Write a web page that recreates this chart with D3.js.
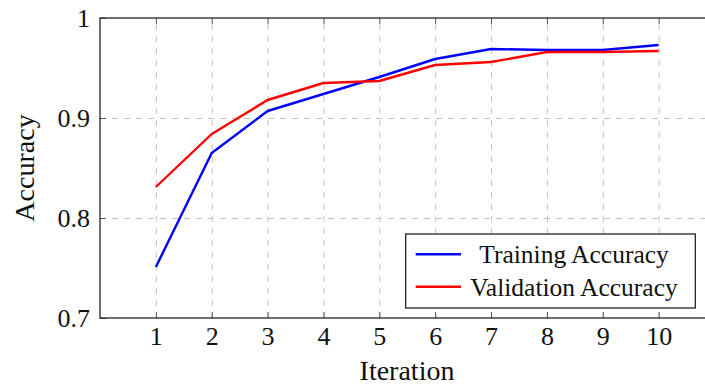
<!DOCTYPE html>
<html>
<head>
<meta charset="utf-8">
<script src="https://cdn.jsdelivr.net/npm/d3@7"></script>
<style>
  body { margin: 0; background: #fff; }
  svg { display: block; font-family: "Liberation Serif", "DejaVu Serif", serif; }
</style>
</head>
<body>
<script>
//chart data
var iterations = [1, 2, 3, 4, 5, 6, 7, 8, 9, 10];
var trainAcc = [0.751, 0.865, 0.907, 0.924, 0.941, 0.959, 0.969, 0.968, 0.968, 0.973];
var valAcc = [0.831, 0.884, 0.918, 0.935, 0.937, 0.953, 0.956, 0.966, 0.966, 0.967];
var yTicks = [0.7, 0.8, 0.9, 1];
var yTickLabels = ["0.7", "0.8", "0.9", "1"];
var seriesNames = ["Training Accuracy", "Validation Accuracy"];
var seriesColors = ["blue", "red"];

var w = 705, h = 390;
var plotLeft = 100, plotTop = 18, plotH = 300;
var plotRight = 714.5; //frame runs off the right edge like the original

var svg = d3.select("body").append("svg")
  .attr("width", w)
  .attr("height", h);

var x = d3.scaleLinear().domain([0, 11]).range([plotLeft, plotRight]);
var y = d3.scaleLinear().domain([0.7, 1]).range([plotTop + plotH, plotTop]);

//dashed grid
var gridX = svg.append("g")
  .attr("transform", "translate(0," + (plotTop + plotH) + ")")
  .call(d3.axisBottom(x).tickValues(iterations).tickSize(-plotH).tickFormat(""));
var gridY = svg.append("g")
  .attr("transform", "translate(" + plotLeft + ",0)")
  .call(d3.axisLeft(y).tickValues([0.8, 0.9]).tickSize(-(plotRight - plotLeft)).tickFormat(""));
[gridX, gridY].forEach(function(g){
  g.select(".domain").remove();
  g.selectAll("line")
    .attr("stroke", "#c4c4c4")
    .attr("stroke-width", 1)
    .attr("stroke-dasharray", "6,6");
});

//inner tick marks on top, bottom and left
var tickBottom = svg.append("g")
  .attr("transform", "translate(0," + (plotTop + plotH) + ")")
  .call(d3.axisBottom(x).tickValues(iterations).tickSize(-6).tickPadding(8.5)
    .tickFormat(d3.format("d")));
var tickTop = svg.append("g")
  .attr("transform", "translate(0," + plotTop + ")")
  .call(d3.axisTop(x).tickValues(iterations).tickSize(-6).tickFormat(""));
var tickLeft = svg.append("g")
  .attr("transform", "translate(" + plotLeft + ",0)")
  .call(d3.axisLeft(y).tickValues(yTicks).tickSize(-6).tickPadding(10)
    .tickFormat(function(d, i){ return yTickLabels[i]; }));
[tickBottom, tickTop, tickLeft].forEach(function(g){
  g.select(".domain").remove();
  g.selectAll("line").attr("stroke", "#555").attr("stroke-width", 1);
  g.selectAll("text")
    .attr("fill", "#111")
    .style("font-family", "Liberation Serif, serif")
    .style("font-size", "26px");
});

//series lines
var line = d3.line()
  .x(function(d, i){ return x(iterations[i]); })
  .y(function(d){ return y(d); });
svg.selectAll(".series")
  .data([trainAcc, valAcc])
  .enter()
  .append("path")
  .attr("class", "series")
  .attr("d", line)
  .attr("fill", "none")
  .attr("stroke", function(d, i){ return seriesColors[i]; })
  .attr("stroke-width", 2.4)
  .attr("stroke-linejoin", "round");

//frame
svg.append("rect")
  .attr("x", plotLeft)
  .attr("y", plotTop)
  .attr("width", plotRight - plotLeft)
  .attr("height", plotH)
  .attr("fill", "none")
  .attr("stroke", "#222")
  .attr("stroke-width", 1.3);

//axis titles
svg.append("text")
  .attr("x", 407)
  .attr("y", 380)
  .attr("text-anchor", "middle")
  .style("font-size", "28px")
  .attr("fill", "#111")
  .text("Iteration");
svg.append("text")
  .attr("transform", "translate(34," + (plotTop + plotH / 2) + ") rotate(-90)")
  .attr("text-anchor", "middle")
  .style("font-size", "28px")
  .attr("fill", "#111")
  .text("Accuracy");

//legend
var legend = svg.append("g");
legend.append("rect")
  .attr("x", 405.7)
  .attr("y", 234)
  .attr("width", 289.6)
  .attr("height", 74)
  .attr("fill", "#fff")
  .attr("stroke", "#111")
  .attr("stroke-width", 1.2);
var rows = legend.selectAll(".row")
  .data(seriesNames)
  .enter()
  .append("g")
  .attr("class", "row")
  .attr("transform", function(d, i){ return "translate(0," + (254.3 + i * 32.4) + ")"; });
rows.append("line")
  .attr("x1", 415.7)
  .attr("x2", 461)
  .attr("stroke", function(d, i){ return seriesColors[i]; })
  .attr("stroke-width", 2.4);
rows.append("text")
  .attr("x", 574)
  .attr("y", 9)
  .attr("text-anchor", "middle")
  .style("font-size", "25.5px")
  .attr("fill", "#111")
  .text(function(d){ return d; });
</script>
</body>
</html>
